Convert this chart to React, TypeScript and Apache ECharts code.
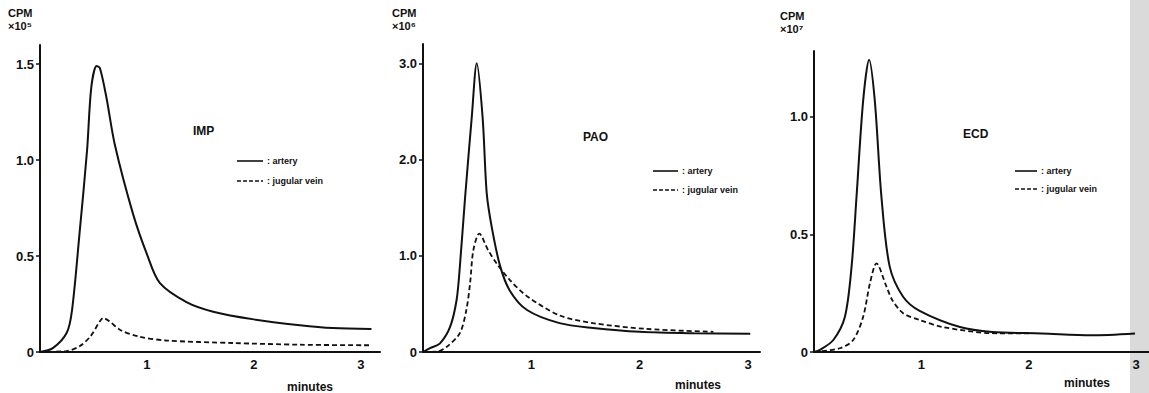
import React, { useEffect, useRef } from "react";
import * as echarts from "echarts";

// ---- data (minutes, CPM in panel units) ----
const impArtery: [number, number][] = [
  [0, 0], [0.12, 0.02], [0.25, 0.1], [0.3, 0.22], [0.37, 0.62], [0.44, 1.05], [0.48, 1.38],
  [0.53, 1.49], [0.56, 1.48], [0.62, 1.33], [0.7, 1.08], [0.87, 0.72], [1.0, 0.51], [1.12, 0.36],
  [1.37, 0.26], [1.62, 0.21], [2.0, 0.17], [2.43, 0.14], [2.74, 0.125], [3.1, 0.12],
];
const impJugular: [number, number][] = [
  [0, 0], [0.25, 0.005], [0.37, 0.03], [0.47, 0.08], [0.56, 0.16], [0.59, 0.177], [0.65, 0.16],
  [0.75, 0.115], [0.93, 0.08], [1.18, 0.06], [1.8, 0.047], [2.43, 0.038], [3.1, 0.035],
];
const paoArtery: [number, number][] = [
  [0, 0], [0.065, 0.04], [0.157, 0.09], [0.25, 0.26], [0.31, 0.54], [0.34, 0.886], [0.388, 1.6],
  [0.45, 2.44], [0.496, 3.0], [0.55, 2.44], [0.588, 1.65], [0.634, 1.3], [0.71, 0.9], [0.8, 0.64],
  [0.96, 0.436], [1.26, 0.3], [1.57, 0.25], [2.0, 0.21], [2.5, 0.195], [3.02, 0.19],
];
const paoJugular: [number, number][] = [
  [0, 0], [0.127, 0.003], [0.22, 0.055], [0.34, 0.196], [0.4, 0.436], [0.434, 0.71], [0.465, 1.06],
  [0.52, 1.23], [0.6, 1.06], [0.68, 0.92], [0.8, 0.75], [0.96, 0.58], [1.26, 0.38], [1.57, 0.3],
  [2.06, 0.24], [2.68, 0.21],
];
const ecdArtery: [number, number][] = [
  [0, 0], [0.056, 0.009], [0.18, 0.051], [0.288, 0.15], [0.35, 0.363], [0.396, 0.66], [0.458, 1.07],
  [0.513, 1.243], [0.566, 1.07], [0.628, 0.66], [0.705, 0.363], [0.83, 0.235], [0.984, 0.175],
  [1.36, 0.106], [1.66, 0.085], [2.12, 0.079], [2.58, 0.071], [2.99, 0.079],
];
const ecdJugular: [number, number][] = [
  [0, 0], [0.24, 0.016], [0.365, 0.051], [0.458, 0.15], [0.52, 0.29], [0.582, 0.377], [0.675, 0.278],
  [0.73, 0.22], [0.83, 0.165], [0.984, 0.136], [1.2, 0.106], [1.66, 0.08], [2.0, 0.079],
];

const xTicks = [1, 2, 3];
const impYTicks = [0, 0.5, 1.0, 1.5];
const paoYTicks = [0, 1.0, 2.0, 3.0];
const ecdYTicks = [0, 0.5, 1.0];

const panelNames = ["IMP", "PAO", "ECD"];
const exponents = ["×10⁵", "×10⁶", "×10⁷"];
const legendLabels = [": artery", ": jugular vein"];
const xAxisName = "minutes";

const FONT = "'Liberation Sans', Arial, sans-serif";
const INK = "#111";

export default function App() {
  const ref = useRef<HTMLDivElement>(null);
  useEffect(() => {
    if (!ref.current) return;
    const chart = echarts.init(ref.current, undefined, { renderer: "svg" });

    const grids = [
      { left: 40, top: 45, width: 340, height: 307 },
      { left: 423, top: 44, width: 337, height: 308 },
      { left: 814, top: 51, width: 335, height: 301 },
    ];
    const xMax = [3.18, 3.11, 3.12];
    const yMax = [1.6, 3.2, 1.28];
    const yTicks = [impYTicks, paoYTicks, ecdYTicks];
    const seriesData = [
      [impArtery, impJugular],
      [paoArtery, paoJugular],
      [ecdArtery, ecdJugular],
    ];

    const axisLine = { lineStyle: { color: INK, width: 2 } };
    const labelStyle = { color: INK, fontFamily: FONT, fontWeight: "bold" as const, fontSize: 13 };

    const xAxes = grids.map((_, i) => ({
      type: "value" as const,
      gridIndex: i,
      min: 0,
      max: xMax[i],
      axisLine: { ...axisLine, onZero: false },
      splitLine: { show: false },
      axisTick: { show: false },
      axisLabel: { ...labelStyle, margin: 6, customValues: xTicks, formatter: (v: number) => String(v) },
    }));
    const yAxes = grids.map((_, i) => ({
      type: "value" as const,
      gridIndex: i,
      min: 0,
      max: yMax[i],
      axisLine: { ...axisLine, show: true },
      splitLine: { show: false },
      axisTick: { show: true, length: 4, customValues: yTicks[i], lineStyle: { color: INK, width: 1.5 } },
      axisLabel: {
        ...labelStyle,
        margin: 6,
        customValues: yTicks[i],
        formatter: (v: number) => (v === 0 ? "0" : v.toFixed(1)),
      },
    }));

    const series: any[] = [];
    seriesData.forEach((pair, i) => {
      series.push({
        type: "line",
        name: "artery",
        xAxisIndex: i,
        yAxisIndex: i,
        data: pair[0],
        smooth: 0.3,
        symbol: "none",
        lineStyle: { color: INK, width: 2 },
      });
      series.push({
        type: "line",
        name: "jugular vein",
        xAxisIndex: i,
        yAxisIndex: i,
        data: pair[1],
        smooth: 0.3,
        symbol: "none",
        lineStyle: { color: INK, width: 1.8, type: [5, 3] },
      });
    });

    const txt = (x: number, y: number, text: string, size: number, align = "left") => ({
      type: "text",
      x,
      y,
      z: 10,
      style: {
        text,
        fill: INK,
        fontFamily: FONT,
        fontWeight: "bold",
        fontSize: size,
        align,
        verticalAlign: "middle",
      },
    });
    const seg = (x1: number, x2: number, y: number, dashed: boolean) => ({
      type: "line",
      z: 10,
      shape: { x1, y1: y, x2, y2: y },
      style: { stroke: INK, lineWidth: 1.6, lineDash: dashed ? [4, 2] : null },
    });

    const cpmPos = [[8, 13], [392, 13], [780, 16]];
    const titlePos = [[193, 131], [583, 137], [963, 134]];
    const legendPos = [[237, 263, 161, 181], [653, 678, 171, 190], [1015, 1037, 171, 189]];
    const minutesPos = [[310, 387], [698, 385], [1087, 383]];

    const graphic: any[] = [
      {
        type: "rect",
        z: -10,
        shape: { x: 1130, y: 0, width: 19, height: 393 },
        style: { fill: "#dadada" },
      },
    ];
    for (let i = 0; i < 3; i++) {
      graphic.push(txt(cpmPos[i][0], cpmPos[i][1], "CPM", 11));
      graphic.push(txt(cpmPos[i][0], cpmPos[i][1] + 13, exponents[i], 11));
      graphic.push(txt(titlePos[i][0], titlePos[i][1], panelNames[i], 12));
      const [lx1, lx2, ly1, ly2] = legendPos[i];
      graphic.push(seg(lx1, lx2, ly1, false));
      graphic.push(seg(lx1, lx2, ly2, true));
      graphic.push(txt(lx2 + 4, ly1, legendLabels[0], 9));
      graphic.push(txt(lx2 + 4, ly2, legendLabels[1], 9));
      graphic.push(txt(minutesPos[i][0], minutesPos[i][1], xAxisName, 12, "center"));
    }

    chart.setOption({
      animation: false,
      backgroundColor: "#ffffff",
      grid: grids,
      xAxis: xAxes,
      yAxis: yAxes,
      series,
      graphic,
    });
    return () => chart.dispose();
  }, []);

  return (
    <div
      ref={ref}
      style={{ position: "fixed", left: 0, top: 0, width: 1149, height: 393, background: "#fff" }}
    />
  );
}
